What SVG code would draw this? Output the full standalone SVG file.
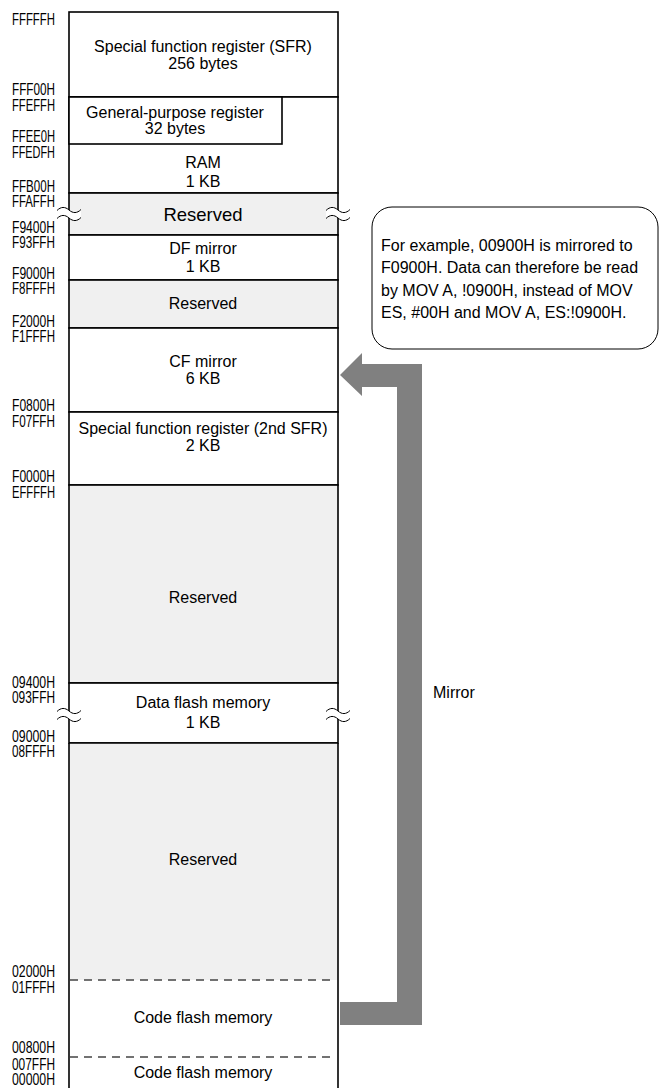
<svg xmlns="http://www.w3.org/2000/svg" width="662" height="1088" viewBox="0 0 662 1088">
<style>
.box{fill:#fff;stroke:#000;stroke-width:1.6}
.res{fill:#f0f0f0;stroke:#000;stroke-width:1.6}
.t{font-family:"Liberation Sans",Arial,sans-serif;font-size:16px;fill:#000;text-anchor:middle}
.tb{font-family:"Liberation Sans",Arial,sans-serif;font-size:18.5px;fill:#000;text-anchor:middle}
.a{font-family:"Liberation Sans",Arial,sans-serif;font-size:16px;fill:#000}
.n{font-family:"Liberation Sans",Arial,sans-serif;font-size:16px;fill:#000}
.dash{stroke:#444;stroke-width:1.5;stroke-dasharray:8,6;fill:none}
.wave{fill:none;stroke:#000;stroke-width:1}
</style>
<rect width="662" height="1088" fill="#fff"/>
<g id="sfr"><rect class="box" x="69" y="12" width="269" height="85"/><text class="t" x="203" y="52">Special function register (SFR)</text><text class="t" x="203" y="69">256 bytes</text></g>
<g id="ram"><rect class="box" x="69" y="97" width="269" height="96"/><text class="t" x="203" y="168">RAM</text><text class="t" x="203" y="187">1 KB</text></g>
<g id="gpr"><rect class="box" x="69" y="97" width="213" height="47"/><text class="t" x="175" y="118">General-purpose register</text><text class="t" x="175" y="134">32 bytes</text></g>
<g id="res1"><rect class="res" x="69" y="193" width="269" height="42"/><text class="tb" x="203" y="221">Reserved</text></g>
<g id="dfmirror"><rect class="box" x="69" y="235" width="269" height="45"/><text class="t" x="203" y="254">DF mirror</text><text class="t" x="203" y="272">1 KB</text></g>
<g id="res2"><rect class="res" x="69" y="280" width="269" height="48"/><text class="t" x="203" y="309">Reserved</text></g>
<g id="cfmirror"><rect class="box" x="69" y="328" width="269" height="84"/><text class="t" x="203" y="367">CF mirror</text><text class="t" x="203" y="384">6 KB</text></g>
<g id="sfr2"><rect class="box" x="69" y="412" width="269" height="73"/><text class="t" x="203" y="434">Special function register (2nd SFR)</text><text class="t" x="203" y="451">2 KB</text></g>
<g id="res3"><rect class="res" x="69" y="485" width="269" height="198"/><text class="t" x="203" y="603">Reserved</text></g>
<g id="dataflash"><rect class="box" x="69" y="683" width="269" height="60"/><text class="t" x="203" y="708">Data flash memory</text><text class="t" x="203" y="728">1 KB</text></g>
<g id="res4"><rect fill="#f0f0f0" x="69" y="743" width="269" height="237"/><text class="t" x="203" y="865">Reserved</text></g>
<g id="codeflash1"><text class="t" x="203" y="1023">Code flash memory</text></g>
<g id="codeflash0"><text class="t" x="203" y="1078">Code flash memory</text></g>
<g id="outline">
<line x1="69" y1="743" x2="338" y2="743" stroke="#000" stroke-width="1.6"/>
<line x1="69" y1="743" x2="69" y2="1088" stroke="#000" stroke-width="1.6"/>
<line x1="338" y1="743" x2="338" y2="1088" stroke="#000" stroke-width="1.6"/>
<line class="dash" x1="70" y1="980" x2="336" y2="980"/>
<line class="dash" x1="70" y1="1057" x2="336" y2="1057"/>
</g>
<g id="breaks">
<path d="M57,210.5 C61,206.5 65,206.5 69,210 C73,213.5 77,213.5 81,209.5 L81,217.5 C77,221.5 73,221.5 69,218 C65,214.5 61,214.5 57,218.5 Z" fill="#fff"/>
<path class="wave" d="M57,210.5 C61,206.5 65,206.5 69,210 C73,213.5 77,213.5 81,209.5 M57,218.5 C61,214.5 65,214.5 69,218 C73,221.5 77,221.5 81,217.5"/>
<path d="M326,210.5 C330,206.5 334,206.5 338,210 C342,213.5 346,213.5 350,209.5 L350,217.5 C346,221.5 342,221.5 338,218 C334,214.5 330,214.5 326,218.5 Z" fill="#fff"/>
<path class="wave" d="M326,210.5 C330,206.5 334,206.5 338,210 C342,213.5 346,213.5 350,209.5 M326,218.5 C330,214.5 334,214.5 338,218 C342,221.5 346,221.5 350,217.5"/>
<path d="M57,711.5 C61,707.5 65,707.5 69,711 C73,714.5 77,714.5 81,710.5 L81,718.5 C77,722.5 73,722.5 69,719 C65,715.5 61,715.5 57,719.5 Z" fill="#fff"/>
<path class="wave" d="M57,711.5 C61,707.5 65,707.5 69,711 C73,714.5 77,714.5 81,710.5 M57,719.5 C61,715.5 65,715.5 69,719 C73,722.5 77,722.5 81,718.5"/>
<path d="M326,711.5 C330,707.5 334,707.5 338,711 C342,714.5 346,714.5 350,710.5 L350,718.5 C346,722.5 342,722.5 338,719 C334,715.5 330,715.5 326,719.5 Z" fill="#fff"/>
<path class="wave" d="M326,711.5 C330,707.5 334,707.5 338,711 C342,714.5 346,714.5 350,710.5 M326,719.5 C330,715.5 334,715.5 338,719 C342,722.5 346,722.5 350,718.5"/>
</g>
<g id="addresses">
<text class="a" x="12" y="25" textLength="43" lengthAdjust="spacingAndGlyphs">FFFFFH</text>
<text class="a" x="12" y="95" textLength="43" lengthAdjust="spacingAndGlyphs">FFF00H</text>
<text class="a" x="12" y="111" textLength="43" lengthAdjust="spacingAndGlyphs">FFEFFH</text>
<text class="a" x="12" y="142" textLength="43" lengthAdjust="spacingAndGlyphs">FFEE0H</text>
<text class="a" x="12" y="158" textLength="43" lengthAdjust="spacingAndGlyphs">FFEDFH</text>
<text class="a" x="12" y="192" textLength="43" lengthAdjust="spacingAndGlyphs">FFB00H</text>
<text class="a" x="12" y="207" textLength="43" lengthAdjust="spacingAndGlyphs">FFAFFH</text>
<text class="a" x="12" y="233" textLength="43" lengthAdjust="spacingAndGlyphs">F9400H</text>
<text class="a" x="12" y="248" textLength="43" lengthAdjust="spacingAndGlyphs">F93FFH</text>
<text class="a" x="12" y="279" textLength="43" lengthAdjust="spacingAndGlyphs">F9000H</text>
<text class="a" x="12" y="294" textLength="43" lengthAdjust="spacingAndGlyphs">F8FFFH</text>
<text class="a" x="12" y="327" textLength="43" lengthAdjust="spacingAndGlyphs">F2000H</text>
<text class="a" x="12" y="342" textLength="43" lengthAdjust="spacingAndGlyphs">F1FFFH</text>
<text class="a" x="12" y="411" textLength="43" lengthAdjust="spacingAndGlyphs">F0800H</text>
<text class="a" x="12" y="427" textLength="43" lengthAdjust="spacingAndGlyphs">F07FFH</text>
<text class="a" x="12" y="482" textLength="43" lengthAdjust="spacingAndGlyphs">F0000H</text>
<text class="a" x="12" y="498" textLength="43" lengthAdjust="spacingAndGlyphs">EFFFFH</text>
<text class="a" x="12" y="688" textLength="43" lengthAdjust="spacingAndGlyphs">09400H</text>
<text class="a" x="12" y="703" textLength="43" lengthAdjust="spacingAndGlyphs">093FFH</text>
<text class="a" x="12" y="742" textLength="43" lengthAdjust="spacingAndGlyphs">09000H</text>
<text class="a" x="12" y="757" textLength="43" lengthAdjust="spacingAndGlyphs">08FFFH</text>
<text class="a" x="12" y="977" textLength="43" lengthAdjust="spacingAndGlyphs">02000H</text>
<text class="a" x="12" y="993" textLength="43" lengthAdjust="spacingAndGlyphs">01FFFH</text>
<text class="a" x="12" y="1053" textLength="43" lengthAdjust="spacingAndGlyphs">00800H</text>
<text class="a" x="12" y="1070" textLength="43" lengthAdjust="spacingAndGlyphs">007FFH</text>
<text class="a" x="12" y="1085" textLength="43" lengthAdjust="spacingAndGlyphs">00000H</text>
</g>
<g id="note">
<rect x="372" y="207" width="286" height="142" rx="20" ry="20" fill="#fff" stroke="#000" stroke-width="1"/>
<text class="n" x="381" y="251">For example, 00900H is mirrored to</text>
<text class="n" x="381" y="273">F0900H. Data can therefore be read</text>
<text class="n" x="381" y="296">by MOV A, !0900H, instead of MOV</text>
<text class="n" x="381" y="318">ES, #00H and MOV A, ES:!0900H.</text>
</g>
<g id="connectors">
<polygon points="340,375 362,353 362,364 422,364 422,1025 340,1025 340,1002 397,1002 397,387 362,387 362,396" fill="#808080"/>
<text class="n" x="433" y="698">Mirror</text>
</g>
</svg>
